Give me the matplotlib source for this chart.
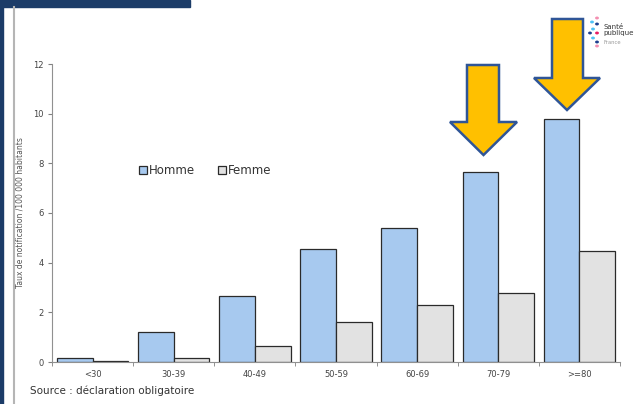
import numpy as np
import matplotlib.pyplot as plt
from matplotlib.patches import Polygon, Rectangle
from matplotlib.lines import Line2D

# Taux de notification par classe d'âge et sexe
classes_age = ['<30', '30-39', '40-49', '50-59', '60-69', '70-79', '>=80']
homme = [0.18, 1.2, 2.65, 4.55, 5.4, 7.65, 9.78]
femme = [0.05, 0.15, 0.65, 1.6, 2.3, 2.78, 4.47]

fig = plt.figure(figsize=(6.43, 4.04), dpi=100)
W, H = 643, 404

# Cadre décoratif (bandes bleues et trait gris)
navy = '#1c3c68'
fig.patches.append(Rectangle((0, 0), 3 / W, 1, transform=fig.transFigure, color=navy, zorder=0))
fig.patches.append(Rectangle((0, 1 - 7 / H), 190 / W, 7 / H, transform=fig.transFigure, color=navy, zorder=0))
fig.lines.append(Line2D([14 / W, 14 / W], [0, 1 - 7 / H], transform=fig.transFigure, color='#b5b5b5', lw=1.5))

ax = fig.add_axes([52 / W, 42 / H, 568 / W, 298 / H])
x = np.arange(len(classes_age))
w = 0.44
ax.bar(x - w / 2, homme, w, color='#a7c9ef', edgecolor='#2a2a2a', linewidth=0.9, label='Homme')
ax.bar(x + w / 2, femme, w, color='#e2e2e2', edgecolor='#2a2a2a', linewidth=0.9, label='Femme')

ax.set_xlim(-0.5, len(classes_age) - 0.5)
ax.set_ylim(0, 12)
ax.set_yticks(range(0, 13, 2))
ax.set_xticks(x)
ax.set_xticklabels(classes_age)
ax.set_xticks(np.arange(-0.5, len(classes_age), 1), minor=True)
ax.tick_params(axis='x', which='major', length=0, labelsize=6, colors='#444444', pad=6)
ax.tick_params(axis='x', which='minor', length=3, color='#808080')
ax.tick_params(axis='y', length=3, color='#808080', labelsize=6, labelcolor='#444444', pad=3)
for s in ['top', 'right']:
    ax.spines[s].set_visible(False)
for s in ['left', 'bottom']:
    ax.spines[s].set_color('#909090')
ax.set_ylabel('Taux de notification /100 000 habitants', fontsize=5.5, color='#555555', labelpad=6)

leg = ax.legend(loc='upper left', bbox_to_anchor=(0.135, 0.70), ncol=2, frameon=False, fontsize=8.5,
                handlelength=0.65, handleheight=0.65, handletextpad=0.2, columnspacing=1.9)
for t in leg.get_texts():
    t.set_color('#333333')

fig.text(30 / W, 1 - 391 / H, 'Source : déclaration obligatoire', fontsize=7.5, color='#333333', va='center')

# Flèches jaunes
def fleche(x_l, x_r, hx_l, hx_r, top, head, tip):
    xm = (hx_l + hx_r) / 2
    pts = [(x_l, top), (x_r, top), (x_r, head), (hx_r, head), (xm, tip),
           (hx_l, head), (x_l, head)]
    pts = [(px / W, 1 - py / H) for px, py in pts]
    fig.patches.append(Polygon(pts, closed=True, transform=fig.transFigure,
                               facecolor='#ffc000', edgecolor='#2f5597', lw=1.8, zorder=5))

fleche(467, 499, 450, 517, 65, 122, 155)
fleche(552, 583, 534, 600, 19, 78, 110)

# Logo Santé publique France
dots = [(592, 22, '#4fc3f7'), (597, 24, '#1e3f8f'), (593, 29, '#4fc3f7'), (590, 33, '#1e3f8f'),
        (597, 33, '#e91e63'), (593, 38, '#4fc3f7'), (597, 42, '#1e3f8f'), (597, 18, '#f48fb1'),
        (597, 46, '#f48fb1')]
for px, py, c in dots:
    fig.patches.append(plt.Circle((px / W, 1 - py / H), 1.2 / W, transform=fig.transFigure, color=c))
fig.text(603 / W, 1 - 30 / H, 'Santé\npublique', fontsize=5, color='#333333', va='center', linespacing=0.9)
fig.text(603 / W, 1 - 43 / H, 'France', fontsize=3.8, color='#999999', va='center')

fig.savefig('out.png', dpi=100)
